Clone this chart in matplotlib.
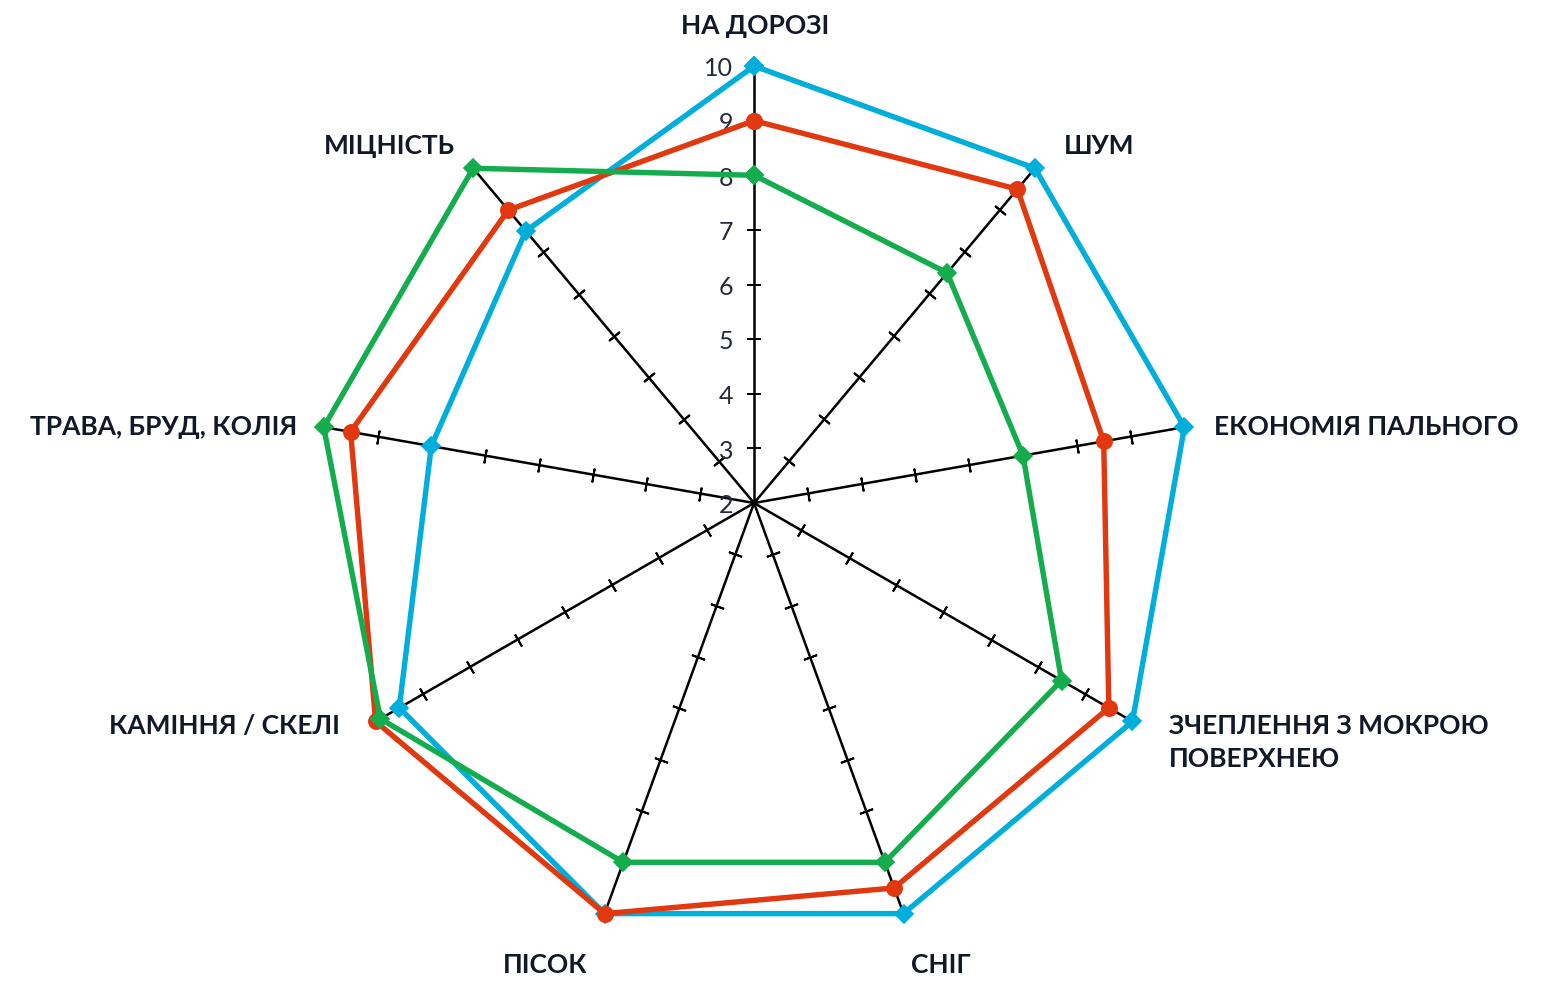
import numpy as np
import matplotlib.pyplot as plt

# categories clockwise from the top
categories = ["НА ДОРОЗІ", "ШУМ", "ЕКОНОМІЯ ПАЛЬНОГО", "ЗЧЕПЛЕННЯ З МОКРОЮ\nПОВЕРХНЕЮ",
              "СНІГ", "ПІСОК", "КАМІННЯ / СКЕЛІ", "ТРАВА, БРУД, КОЛІЯ", "МІЦНІСТЬ"]
blue_vals  = [10, 10, 10, 10, 10, 10, 9.5, 8, 8.5]
red_vals   = [9, 9.5, 8.5, 9.5, 9.5, 10, 10, 9.5, 9]
green_vals = [8, 7.5, 7, 8.5, 9, 9, 9.9, 10, 10]
r_ticks    = [2, 3, 4, 5, 6, 7, 8, 9, 10]

BLUE, RED, GREEN = "#00AEDB", "#E2380F", "#13AD4E"
TEXT = "#111827"

# label offsets (points) from the end of each spoke, and alignment
LABEL_POS = [((0.5, 29), "center", "center"),
             ((21, 16), "left", "center"),
             ((21, 0), "left", "center"),
             ((26, -15), "left", "center"),
             ((27, -37), "center", "center"),
             ((-43, -37), "center", "center"),
             ((-26, -3), "right", "center"),
             ((-19, 0), "right", "center"),
             ((-13, 16), "right", "center")]

plt.rcParams["font.family"] = ["Lato", "Noto Sans", "DejaVu Sans"]

fig = plt.figure(figsize=(15.49, 9.81), dpi=100)
ax = fig.add_axes([0.2047, 0.0418, 0.5642, 0.8909], projection="polar")
ax.set_theta_zero_location("N")
ax.set_theta_direction(-1)
ax.set_rlim(2, 10)
ax.axis("off")

n = len(categories)
theta = np.arange(n) * 2 * np.pi / n

# spokes with crossing ticks
for t in theta:
    ax.plot([t, t], [2, 10], color="black", lw=1.8, zorder=1, clip_on=False)
    ang = 90 - np.degrees(t)
    ax.plot([t] * 7, r_ticks[1:-1], ls="none", marker=(2, 2, ang), ms=10,
            mew=1.4, color="black", zorder=1)

# radial labels along the top spoke
for v in r_ticks:
    ax.annotate(str(v), xy=(0, v), xytext=(-15, -2), textcoords="offset points",
                ha="right", va="center", fontsize=18, color="#262a38", zorder=2)

tc = np.append(theta, theta[0])
series = [(blue_vals, BLUE, "D", 9.5, 3), (red_vals, RED, "o", 11, 4),
          (green_vals, GREEN, "D", 9.5, 5)]
for vals, col, mk, ms, z in series:
    ax.plot(tc, vals + vals[:1], color=col, lw=3.9, marker=mk, ms=ms,
            mec=col, mew=1.2, zorder=z, clip_on=False)

for t, lab, (off, ha, va) in zip(theta, categories, LABEL_POS):
    ax.annotate(lab, xy=(t, 10), xytext=off, textcoords="offset points",
                ha=ha, va=va, fontsize=19, fontweight="bold", color=TEXT,
                linespacing=1.45, annotation_clip=False)

fig.savefig("out.png", dpi=100)
